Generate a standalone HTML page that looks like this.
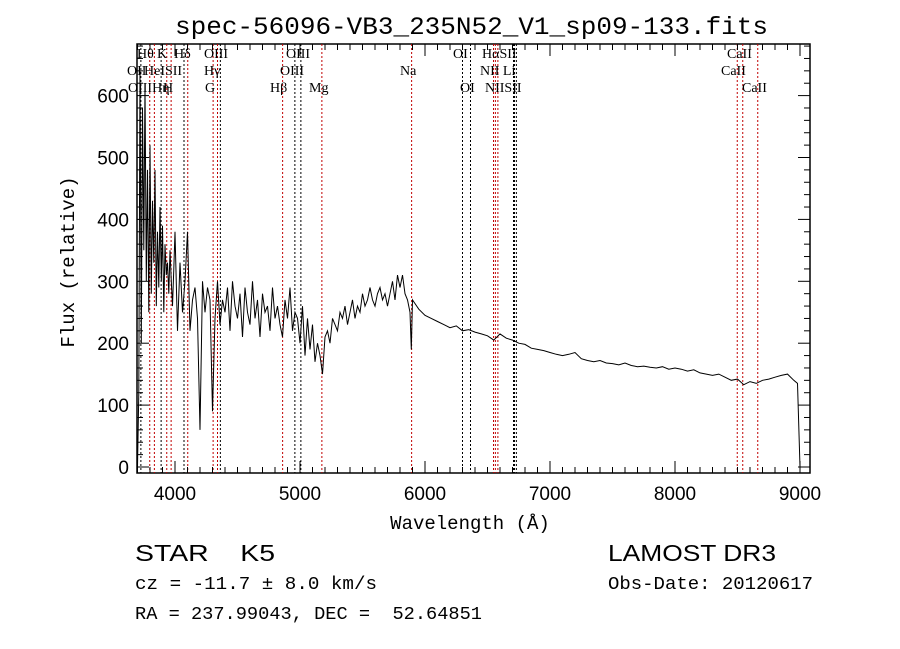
<!DOCTYPE html>
<html><head><meta charset="utf-8"><style>
html,body{margin:0;padding:0;background:#fff;}
svg{display:block;}
text{font-family:"Liberation Mono",monospace;fill:#000;}
.tk{font-family:"Liberation Sans",sans-serif;font-size:19px;}
.ln{font-family:"Liberation Serif",serif;font-size:14px;}
</style></head><body>
<svg id="chart" width="900" height="649" viewBox="0 0 900 649">
<text x="175" y="34" textLength="593" lengthAdjust="spacingAndGlyphs" font-size="25">spec-56096-VB3_235N52_V1_sp09-133.fits</text>
<rect x="137" y="44" width="673" height="429" fill="none" stroke="#000" stroke-width="1.5"/>
<g id="lines"></g><g id="ticks"></g>
<path id="spec" fill="none" stroke="#000" stroke-width="1"/>
<text transform="translate(74,262) rotate(-90)" text-anchor="middle" font-size="19">Flux (relative)</text>
<text x="470" y="529" text-anchor="middle" font-size="19">Wavelength (Å)</text>
<text x="135" y="561" font-size="23" textLength="140" lengthAdjust="spacingAndGlyphs" style="font-family:'Liberation Sans',sans-serif">STAR&#160;&#160;&#160;&#160;K5</text>
<text x="608" y="561" font-size="23" textLength="168" lengthAdjust="spacingAndGlyphs" style="font-family:'Liberation Sans',sans-serif">LAMOST DR3</text>
<text x="135" y="589" font-size="18" textLength="242" lengthAdjust="spacingAndGlyphs">cz = -11.7 ± 8.0 km/s</text>
<text x="608" y="589" font-size="18" textLength="205" lengthAdjust="spacingAndGlyphs">Obs-Date: 20120617</text>
<text x="135" y="619" font-size="18" textLength="347" lengthAdjust="spacingAndGlyphs" xml:space="preserve">RA = 237.99043, DEC =  52.64851</text>
</svg>
<script>
const xTicks=[4000,5000,6000,7000,8000,9000];
const yTicks=[0,100,200,300,400,500,600];
const wl=[3700,3710,3720,3730,3740,3750,3760,3770,3780,3790,3800,3810,3820,3830,3840,3850,3860,3870,3880,3890,3900,3910,3920,3930,3940,3950,3960,3970,3980,3990,
4000,4020,4040,4060,4080,4100,4120,4140,4160,4180,4200,4220,4240,4260,4280,
4300,4320,4340,4360,4380,4400,4420,4440,4460,4480,4500,4520,4540,4560,4580,4600,4620,4640,4660,4680,4700,4720,4740,4760,4780,4800,4820,4840,4860,4880,4900,4920,4940,4960,4980,
5000,5020,5040,5060,5080,5100,5120,5140,5160,5180,5200,5220,5240,5260,5280,5300,5320,5340,5360,5380,5400,5420,5440,5460,5480,5500,5520,5540,5560,5580,5600,5620,5640,5660,5680,5700,5720,5740,5760,5780,5800,5820,5840,5860,5880,
5890,5900,5950,6000,6050,6100,6150,6200,6250,6300,6350,6400,6450,6500,6550,6600,6650,6700,6750,6800,6850,6900,6950,7000,7050,7100,7150,7200,7250,7300,7350,7400,7450,7500,7550,7600,7650,7700,7750,7800,7850,7900,7950,8000,8050,8100,8150,8200,8250,8300,8350,8400,8450,8500,8550,8600,8650,8700,8750,8800,8850,8900,8950,8980,9000];
const flux=[0,120,640,200,580,350,620,300,480,250,520,280,430,330,480,260,380,290,420,300,390,250,360,310,330,280,350,300,260,320,
380,220,330,250,300,380,220,270,290,240,60,300,250,290,270,
90,240,300,230,270,250,290,220,300,260,240,280,210,290,250,230,300,240,270,210,280,250,260,220,290,240,260,230,210,270,240,290,220,250,240,
200,260,180,240,190,230,170,200,180,150,210,220,200,240,230,220,250,240,260,230,250,270,240,260,250,280,260,270,290,270,260,280,290,270,280,260,280,300,270,310,290,310,280,270,250,
190,270,255,245,240,235,230,225,228,220,222,218,215,212,205,215,208,205,200,198,192,190,188,185,182,180,182,185,175,172,170,172,168,167,165,168,164,162,163,161,160,162,158,160,158,155,157,152,150,148,150,145,140,142,133,138,135,140,142,145,148,150,140,135,0];
const lineWl=[3727,3798,3835,3889,3934,3969,4072,4102,4305,4340,4363,4861,4959,5007,5175,5893,6300,6364,6548,6563,6583,6708,6716,6731,8498,8542,8662];
const lineRed=[0,1,1,0,1,1,0,1,1,1,0,1,0,0,1,1,0,0,1,1,1,0,0,0,1,1,1];
const X=w=>175+(w-4000)*0.125, Y=v=>467-v*0.619;
const NS="http://www.w3.org/2000/svg";
function mk(t,a,p){const e=document.createElementNS(NS,t);for(const k in a)e.setAttribute(k,a[k]);p.appendChild(e);return e;}
const L=document.getElementById('lines'),T=document.getElementById('ticks');
lineWl.forEach((w,i)=>{const e=mk('line',{x1:X(w),x2:X(w),y1:44,y2:473,stroke:lineRed[i]?'#c00000':'#000','stroke-width':1,'stroke-dasharray':'2,2'},L);

});
const labs=[["Hθ",137,58],["K",157,58],["Hδ",174,58],["OIII",204,58],["OIII",286,58],["OI",453,58],["HαSII",482,58],["CaII",727,58],
["OII",127,75],["HeISII",144,75],["Hγ",204,75],["OIII",280,75],["Na",400,75],["NII Li",480,75],["CaII",721,75],
["OIIIHη",128,92],["H",163,92],["G",205,92],["Hβ",270,92],["Mg",309,92],["OI",460,92],["NIISII",485,92],["CaII",742,92]];
labs.forEach(l=>{const e=mk('text',{x:l[1],y:l[2],class:'ln'},L);e.textContent=l[0];

});
for(let w=3700;w<=9080;w+=100){const maj=w%1000==0;const x=X(w);
mk('line',{x1:x,x2:x,y1:473,y2:473-(maj?12:6),stroke:'#000'},T);mk('line',{x1:x,x2:x,y1:44,y2:44+(maj?12:6),stroke:'#000'},T);}
xTicks.forEach(w=>{const e=mk('text',{x:X(w),y:500,'text-anchor':'middle',class:'tk'},T);e.textContent=w;

});
for(let v=0;v<=680;v+=20){const maj=v%100==0;const y=Y(v);
mk('line',{x1:137,x2:137+(maj?12:6),y1:y,y2:y,stroke:'#000'},T);mk('line',{x1:810,x2:810-(maj?12:6),y1:y,y2:y,stroke:'#000'},T);}
yTicks.forEach(v=>{const e=mk('text',{x:129,y:Y(v)+7,'text-anchor':'end',class:'tk'},T);e.textContent=v;

});
document.getElementById('spec').setAttribute('d',wl.map((w,i)=>(i?'L':'M')+X(w).toFixed(1)+','+Math.max(44,Y(flux[i])).toFixed(1)).join(''));
</script>
</body></html>
